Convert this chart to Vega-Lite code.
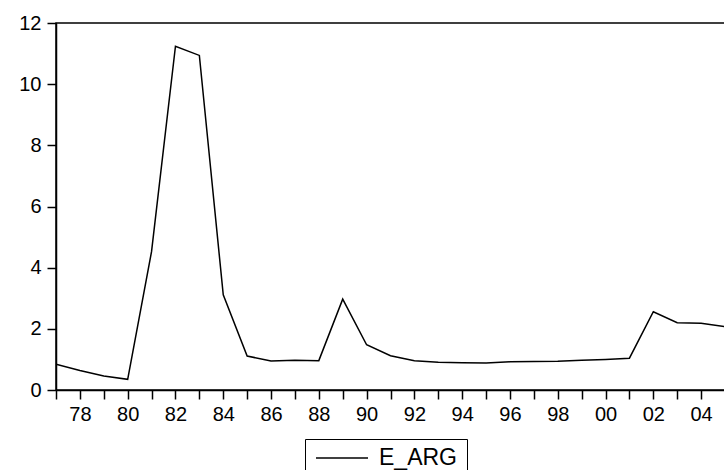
{
  "$schema": "https://vega.github.io/schema/vega-lite/v6.json",
  "width": 669,
  "height": 367,
  "autosize": {"type": "none"},
  "padding": {"left": 56, "top": 23, "right": 0, "bottom": 80},
  "background": "white",
  "config": {
    "view": {"stroke": "black", "strokeWidth": 1.5},
    "font": "Liberation Sans",
    "axis": {
      "domainColor": "black",
      "domainWidth": 1.5,
      "tickColor": "black",
      "tickWidth": 1.5,
      "tickSize": 9,
      "labelColor": "black",
      "labelFont": "Liberation Sans",
      "labelFontSize": 20,
      "grid": false,
      "title": null
    }
  },
  "data": {
    "values": [
      {"year": 1977, "value": 0.84, "series": "E_ARG"},
      {"year": 1978, "value": 0.64, "series": "E_ARG"},
      {"year": 1979, "value": 0.46, "series": "E_ARG"},
      {"year": 1980, "value": 0.35, "series": "E_ARG"},
      {"year": 1981, "value": 4.53, "series": "E_ARG"},
      {"year": 1982, "value": 11.24, "series": "E_ARG"},
      {"year": 1983, "value": 10.94, "series": "E_ARG"},
      {"year": 1984, "value": 3.11, "series": "E_ARG"},
      {"year": 1985, "value": 1.11, "series": "E_ARG"},
      {"year": 1986, "value": 0.95, "series": "E_ARG"},
      {"year": 1987, "value": 0.97, "series": "E_ARG"},
      {"year": 1988, "value": 0.96, "series": "E_ARG"},
      {"year": 1989, "value": 2.97, "series": "E_ARG"},
      {"year": 1990, "value": 1.48, "series": "E_ARG"},
      {"year": 1991, "value": 1.12, "series": "E_ARG"},
      {"year": 1992, "value": 0.96, "series": "E_ARG"},
      {"year": 1993, "value": 0.91, "series": "E_ARG"},
      {"year": 1994, "value": 0.89, "series": "E_ARG"},
      {"year": 1995, "value": 0.88, "series": "E_ARG"},
      {"year": 1996, "value": 0.92, "series": "E_ARG"},
      {"year": 1997, "value": 0.93, "series": "E_ARG"},
      {"year": 1998, "value": 0.94, "series": "E_ARG"},
      {"year": 1999, "value": 0.97, "series": "E_ARG"},
      {"year": 2000, "value": 1.0, "series": "E_ARG"},
      {"year": 2001, "value": 1.04, "series": "E_ARG"},
      {"year": 2002, "value": 2.56, "series": "E_ARG"},
      {"year": 2003, "value": 2.2, "series": "E_ARG"},
      {"year": 2004, "value": 2.18, "series": "E_ARG"},
      {"year": 2005, "value": 2.07, "series": "E_ARG"}
    ]
  },
  "mark": {"type": "line", "strokeWidth": 1.5, "clip": true},
  "encoding": {
    "x": {
      "field": "year",
      "type": "quantitative",
      "scale": {"domain": [1977, 2005], "nice": false, "zero": false},
      "axis": {
        "values": [1977,1978,1979,1980,1981,1982,1983,1984,1985,1986,1987,1988,1989,1990,1991,1992,1993,1994,1995,1996,1997,1998,1999,2000,2001,2002,2003,2004,2005],
        "labelExpr": "datum.value % 2 == 0 ? slice('' + datum.value, 2) : ''",
        "labelPadding": 5,
        "labelOverlap": false,
        "labelFlush": false
      }
    },
    "y": {
      "field": "value",
      "type": "quantitative",
      "scale": {"domain": [0, 12], "nice": false},
      "axis": {"values": [0, 2, 4, 6, 8, 10, 12], "labelPadding": 6, "labelFlush": false}
    },
    "color": {
      "field": "series",
      "type": "nominal",
      "scale": {"range": ["black"]},
      "legend": {
        "title": null,
        "orient": "none",
        "legendX": 249,
        "legendY": 416,
        "strokeColor": "black",
        "padding": 10,
        "clipHeight": 18,
        "symbolType": "stroke",
        "symbolSize": 2704,
        "symbolStrokeWidth": 1.5,
        "symbolStrokeColor": "black",
        "labelFont": "Liberation Sans",
        "labelFontSize": 23,
        "labelColor": "black",
        "labelOffset": 10
      }
    }
  }
}
